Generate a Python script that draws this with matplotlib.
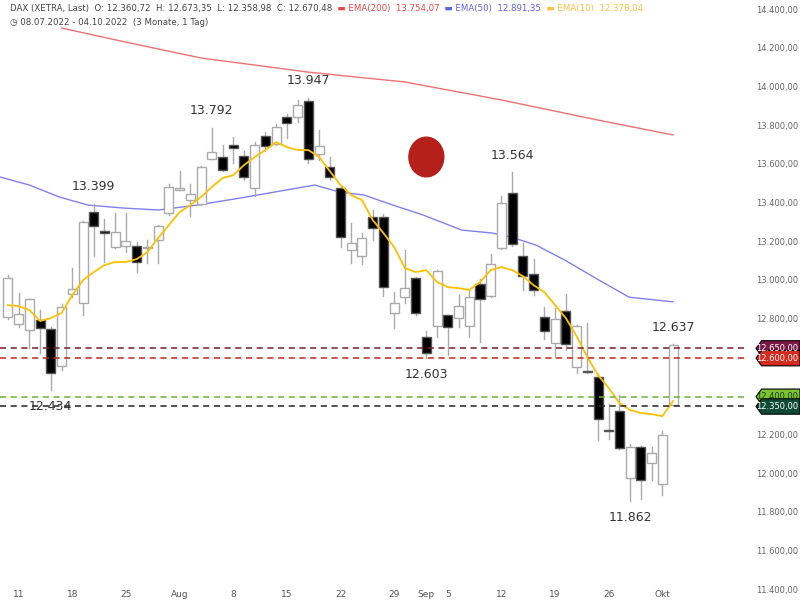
import numpy as np
import matplotlib.pyplot as plt
from matplotlib.patches import Ellipse, Polygon
import matplotlib.transforms as mtransforms

# ── data ─────────────────────────────────────────────────────────────────────
opens  = [12812,12776,12745,12797,12750,12559,12931,12885,13355,13257,
          13174,13179,13179,13168,13210,13350,13470,13417,13397,13630,
          13640,13702,13645,13480,13748,13707,13847,13847,13930,13655,
          13588,13480,13159,13128,13330,13330,12833,12915,13014,12710,
          12766,12823,12807,12766,12983,12920,13170,13453,13128,13035,
          12812,12678,12843,12554,12530,12502,12225,12326,11980,12140,
          12057,11950,12360]
highs  = [13030,12936,12905,12848,12760,12880,13066,13310,13399,13319,
          13350,13350,13200,13210,13290,13500,13570,13500,13595,13792,
          13700,13745,13670,13720,13770,13810,13865,13935,13947,13780,
          13640,13490,13298,13245,13365,13345,12940,13160,13020,12740,
          13055,12823,12926,12950,13010,13140,13440,13564,13195,13115,
          12865,12860,12930,12770,12780,12520,12362,12410,12155,12145,
          12140,12225,12673]
lows   = [12800,12760,12652,12626,12434,12540,12915,12822,13128,13097,
          13170,13148,13045,13092,13092,13340,13470,13335,13390,13630,
          13570,13610,13520,13440,13670,13700,13740,13820,13610,13625,
          13520,13175,13092,13085,13210,12920,12755,12885,12825,12603,
          12710,12615,12760,12710,12683,12918,13165,13180,12952,12925,
          12700,12605,12640,12525,12525,12176,12180,12130,11862,11870,
          11970,11892,12359]
closes = [13014,12828,12905,12755,12523,12864,12957,13304,13283,13247,
          13252,13205,13097,13175,13283,13484,13480,13448,13588,13666,
          13573,13686,13536,13702,13697,13795,13816,13909,13630,13697,
          13536,13226,13195,13220,13272,12967,12885,12962,12833,12626,
          13050,12760,12870,12915,12905,13085,13400,13190,13024,12952,
          12740,12802,12672,12766,12528,12285,12222,12135,12140,11970,
          12110,12202,12670]

ema200_idx = [5, 11, 18, 28, 37, 46, 55, 62]
ema200_val = [14307,14234,14152,14079,14028,13935,13831,13754]

ema50_idx = [-0.7, 2, 4.8, 7.5, 10.8, 14, 17.6, 22.2, 25.9, 28.6, 30.9,
             33.2, 35.9, 38.7, 42.3, 45.1, 46.9, 49.2, 51.9, 55.1, 57.9, 62]
ema50_val = [13536,13495,13433,13391,13376,13366,13391,13433,13469,13495,13459,
             13443,13391,13340,13262,13247,13226,13185,13107,13003,12915,12891]

ema10_idx = list(range(0, 63))
ema10_val = [12874,12869,12848,12792,12807,12833,12926,13003,13045,13081,
             13097,13097,13112,13148,13221,13288,13355,13391,13433,13485,
             13531,13546,13598,13640,13676,13717,13691,13676,13676,13640,
             13567,13495,13443,13417,13314,13247,13174,13066,13045,13055,
             12993,12967,12962,12952,12993,13055,13071,13055,13024,12977,
             12941,12874,12807,12714,12605,12512,12445,12367,12331,12316,
             12310,12300,12378]

levels       = [12650, 12600, 12400, 12350]
level_colors = ["#7a1a2a", "#c8201c", "#6ab42a", "#222222"]
level_boxes  = ["#7c1747", "#d52b1e", "#7dc230", "#0e4a36"]
level_text   = ["white", "white", "#1a3a10", "white"]

tick_idx    = [1, 6, 11, 16, 21, 26, 31, 36, 39, 41, 46, 51, 56, 61]
tick_labels = ["11", "18", "25", "Aug", "8", "15", "22", "29", "Sep", "5",
               "12", "19", "26", "Okt"]

peaks = [(8, 13399, "13.399", "b"), (19, 13792, "13.792", "b"),
         (28, 13947, "13.947", "b"), (47, 13564, "13.564", "b"),
         (39, 12603, "12.603", "t"), (4, 12434, "12.434", "t"),
         (58, 11862, "11.862", "t"), (62, 12673, "12.637", "b")]

# ── plot ─────────────────────────────────────────────────────────────────────
fig = plt.figure(figsize=(8, 6), dpi=100)
ax = fig.add_axes([0, 0, 745/800, 1])
ax.set_xlim(-0.74, 68.7)
ax.set_ylim(11349, 14452)
ax.axis("off")

ax.plot(ema200_idx, ema200_val, color="#f07070", lw=1)
ax.plot(ema50_idx, ema50_val, color="#8080f0", lw=1)

w = 0.42
for i, (o, h, l, c) in enumerate(zip(opens, highs, lows, closes)):
    ax.plot([i, i], [l, h], color="#aaaaaa", lw=1, zorder=2)
    face = "white" if c >= o else "black"
    edge = "#aaaaaa" if c >= o else "#555555"
    ax.add_patch(plt.Rectangle((i - w, min(o, c)), 2*w, max(abs(c - o), 4),
                               facecolor=face, edgecolor=edge, lw=1, zorder=3))

ax.plot(ema10_idx, ema10_val, color="#ffc000", lw=1.3, zorder=4)

for lv, lc in zip(levels, level_colors):
    ax.axhline(lv, color=lc, ls=(0, (4, 3)), lw=1.1, zorder=5)

for x, y, s, pos in peaks:
    off = 12 if pos == "b" else -12
    ax.annotate(s, (x, y), xytext=(0, off), textcoords="offset points",
                ha="center", va="center", fontsize=9, color="#333333")

ax.add_patch(Ellipse((39.0, 13640), 3.25, 205, color="#b5201a", zorder=6))

# x ticks inside the chart
for i, s in zip(tick_idx, tick_labels):
    ax.text(i, 11375, s, ha="center", va="center", fontsize=6.5, color="#555555")

# right-hand price scale
tr = mtransforms.blended_transform_factory(fig.transFigure, ax.transData)
for p in range(11400, 14401, 200):
    lab = f"{p//1000}.{p % 1000:03d},00"
    fig.text(0.9975, p, lab, transform=tr, ha="right", va="center",
             fontsize=6, color="#666666")
for lv, bc, tc in zip(levels, level_boxes, level_text):
    y0 = lv
    poly = Polygon([(0.945, y0), (0.952, y0 + 40), (1.0, y0 + 40),
                    (1.0, y0 - 40), (0.952, y0 - 40)], closed=True,
                   transform=tr, facecolor=bc, edgecolor="black", lw=0.8,
                   clip_on=False, zorder=7)
    fig.add_artist(poly)
    lab = f"{lv//1000}.{lv % 1000:03d},00"
    fig.text(0.9975, lv, lab, transform=tr, ha="right", va="center",
             fontsize=6, color=tc, zorder=8)

# header
hdr = [("DAX (XETRA, Last)  O: 12.360,72  H: 12.673,35  L: 12.358,98  C: 12.670,48", "#444444"),
       ("  ▬ EMA(200)  13.754,07", "#ee4444"),
       ("  ▬ EMA(50)  12.891,35", "#6060ee"),
       ("  ▬ EMA(10)  12.378,04", "#ffc040")]
x0 = 0.012
for s, col in hdr:
    t = fig.text(x0, 0.985, s, fontsize=6.2, color=col, va="center")
    fig.canvas.draw()
    bb = t.get_window_extent()
    x0 = bb.x1 / fig.bbox.width
fig.text(0.012, 0.962, "◷ 08.07.2022 - 04.10.2022  (3 Monate, 1 Tag)",
         fontsize=6.2, color="#444444", va="center")

fig.savefig("out.png", dpi=100)
